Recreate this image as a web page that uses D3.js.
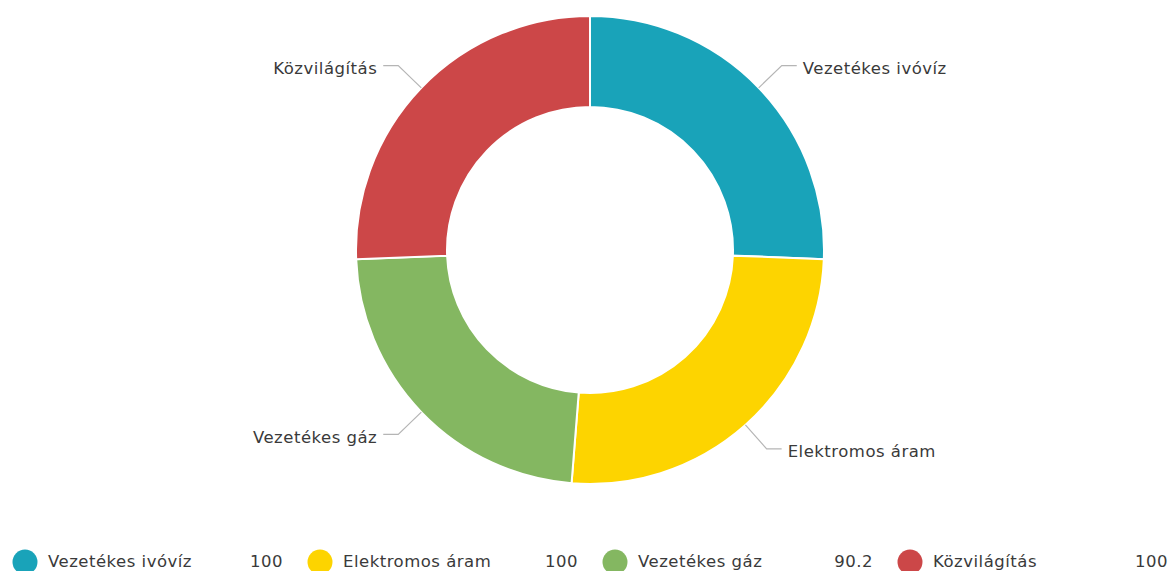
<!DOCTYPE html>
<html><head><meta charset="utf-8">
<script src="https://cdn.jsdelivr.net/npm/d3@7"></script>
<style>body{margin:0;background:#fff;overflow:hidden}svg{display:block}</style>
</head><body><svg id="c" width="1170" height="571"></svg>
<script>
const categories = ["Vezetékes ivóvíz", "Elektromos áram", "Vezetékes gáz", "Közvilágítás"];
const values = [100, 100, 90.2, 100];
const valueLabels = ["100", "100", "90.2", "100"];
const colors = ["#19a3b9", "#fdd400", "#84b761", "#cc4748"];

const svg = d3.select("#c");
const cx = 590, cy = 250, R = 234, r = 143;
const font = "'DejaVu Sans', Verdana, sans-serif";
const fs = 16.5;

const data = categories.map((c, i) => ({name: c, value: values[i], label: valueLabels[i], color: colors[i]}));
const pie = d3.pie().value(d => d.value).sort(null);
const arcs = pie(data);
const arc = d3.arc().innerRadius(r).outerRadius(R);

const g = svg.append("g").attr("transform", `translate(${cx},${cy})`);
g.selectAll("path.slice").data(arcs).join("path")
  .attr("class", "slice")
  .attr("d", arc)
  .attr("fill", d => d.data.color)
  .attr("stroke", "#fff").attr("stroke-width", 2);

// leader lines and labels
arcs.forEach(a => {
  const m = (a.startAngle + a.endAngle) / 2;
  const p1 = [R * Math.sin(m), -R * Math.cos(m)];
  const p2 = [(R + 32) * Math.sin(m), -(R + 32) * Math.cos(m)];
  const right = Math.sin(m) >= 0;
  const p3 = [p2[0] + (right ? 15 : -15), p2[1]];
  g.append("polyline")
    .attr("points", [p1, p2, p3].map(p => p.join(",")).join(" "))
    .attr("fill", "none").attr("stroke", "#b5b5b5").attr("stroke-width", 1.2);
  g.append("text")
    .attr("x", p3[0] + (right ? 6 : -6))
    .attr("y", p3[1] + 4)
    .attr("text-anchor", right ? "start" : "end")
    .attr("dominant-baseline", "middle")
    .attr("font-family", font).attr("font-size", fs)
    .attr("letter-spacing", 0.5)
    .attr("fill", "#3a3a3a")
    .text(a.data.name);
});

// legend
const legendX = d3.scaleBand().domain(categories).range([0, 1180]).paddingInner(0);
const lg = svg.append("g").attr("transform", `translate(0,562)`);
const items = lg.selectAll("g.item").data(data).join("g")
  .attr("class", "item")
  .attr("transform", (d) => `translate(${legendX(d.name) + 12},0)`);
items.append("circle").attr("cx", 13).attr("cy", 0).attr("r", 12.5).attr("fill", d => d.color);
items.append("text").attr("x", 36).attr("y", 0).attr("dominant-baseline", "middle")
  .attr("font-family", font).attr("font-size", fs).attr("letter-spacing", 0.5)
  .attr("fill", "#3a3a3a").text(d => d.name);
items.append("text").attr("x", 271).attr("y", 0).attr("dominant-baseline", "middle")
  .attr("text-anchor", "end")
  .attr("font-family", font).attr("font-size", fs).attr("letter-spacing", 0.5)
  .attr("fill", "#3a3a3a").text(d => d.label);
</script></body></html>
